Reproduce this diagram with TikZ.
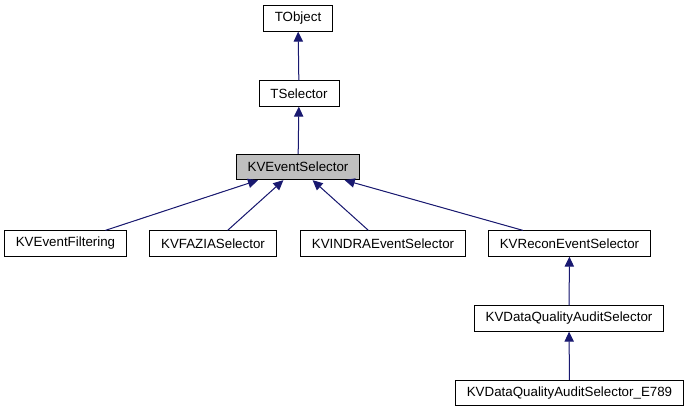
\documentclass[tikz,border=0pt]{standalone}
\usepackage{fontspec}
\setmainfont{Liberation Sans}
\usepackage{tikz}
\usetikzlibrary{arrows.meta}
\definecolor{edgeblue}{RGB}{25,25,112}
\definecolor{boxgray}{RGB}{191,191,191}
\tikzset{>={Triangle[length=7.5pt,width=7pt]}}
\tikzset{cls/.style={draw=black, fill=white, line width=0.75pt, font=\fontsize{10}{12}\selectfont,
  inner xsep=8.6pt, inner ysep=0pt, minimum height=19pt},
  inh/.style={<-, draw=edgeblue, fill=edgeblue, line width=0.75pt}}

\begin{document}
\begin{tikzpicture}[x=0.75pt,y=-0.75pt]
\useasboundingbox (0,0) rectangle (688,411);
\node[cls] (tobject) at (298,18.5) {TObject};
\node[cls] (tselector) at (299,93.5) {TSelector};
\node[cls, fill=boxgray] (kvevsel) at (298,167) {KVEventSelector};
\node[cls] (kvfilt) at (65.5,243.5) {KVEventFiltering};
\node[cls] (kvfazia) at (213,243.5) {KVFAZIASelector};
\node[cls] (kvindra) at (383,243.5) {KVINDRAEventSelector};
\node[cls] (kvrecon) at (569.5,243.5) {KVReconEventSelector};
\node[cls] (kvdqa) at (569,318.5) {KVDataQualityAuditSelector};
\node[cls] (kvdqae) at (569.5,393) {KVDataQualityAuditSelector\_E789};

\draw[inh] (tobject) -- (tselector);
\draw[inh] (tselector) -- (kvevsel);
\draw[inh] (kvevsel) -- (kvfilt);
\draw[inh] (kvevsel) -- (kvfazia);
\draw[inh] (kvevsel) -- (kvindra);
\draw[inh] (kvevsel) -- (kvrecon);
\draw[inh] (kvrecon) -- (kvdqa);
\draw[inh] (kvdqa) -- (kvdqae);
\end{tikzpicture}
\end{document}
